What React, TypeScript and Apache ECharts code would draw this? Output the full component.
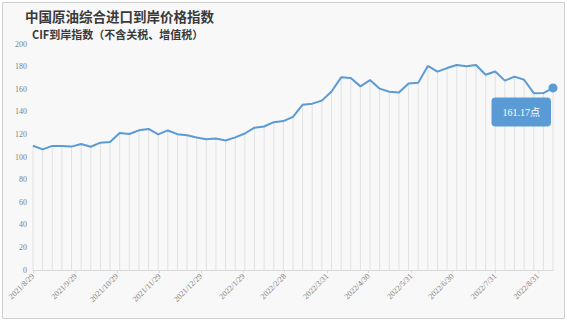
import React, { useEffect, useRef } from "react";
import * as echarts from "echarts";

const titleText = "中国原油综合进口到岸价格指数";
const subtitleText = "CIF到岸指数（不含关税、增值税）";
const startDate = "2021/8/29";
const indexValues = [
  110, 106.7, 109.8, 109.7, 109.2, 111.5, 109.1, 112.7, 113.2, 121.2,
  120.4, 123.6, 124.8, 120, 123.5, 120.2, 119.3, 117.2, 115.7, 116.3,
  114.6, 117.4, 120.8, 125.9, 127, 130.8, 131.8, 135.5, 146.3, 147.2,
  149.9, 158, 170.5, 169.9, 162.5, 168.1, 160.5, 157.8, 157.1, 165,
  165.6, 180.6, 175.5, 178.7, 181.4, 180.3, 181.4, 172.8, 175.6, 167.6,
  171.1, 168.4, 156.5, 156.6, 161.17,
];
const tickLabels = [
  "2021/8/29", "2021/9/29", "2021/10/29", "2021/11/29", "2021/12/29",
  "2022/1/29", "2022/2/28", "2022/3/31", "2022/4/30", "2022/5/31",
  "2022/6/30", "2022/7/31", "2022/8/31",
];
const lastLabelSuffix = "点";

function parseDate(s: string): number {
  const [y, m, d] = s.split("/").map(Number);
  return new Date(y, m - 1, d).getTime();
}
function fmt(t: number): string {
  const d = new Date(t);
  return `${d.getFullYear()}/${d.getMonth() + 1}/${d.getDate()}`;
}

export default function App() {
  const ref = useRef<HTMLDivElement>(null);
  useEffect(() => {
    if (!ref.current) return;
    const chart = echarts.init(ref.current, undefined, { renderer: "svg" });
    const start = parseDate(startDate);
    const dates = indexValues.map((_, i) => {
      const d = new Date(start);
      d.setDate(d.getDate() + 7 * i);
      return d.getTime();
    });
    const pts = indexValues.map((v, i) => [dates[i], v]);
    const tickVals = tickLabels.map(parseDate);
    const lastIdx = indexValues.length - 1;
    const lineData: any[] = pts.map((p, i) =>
      i === lastIdx
        ? {
            value: p,
            symbol: "circle",
            symbolSize: 9,
            label: {
              show: true,
              formatter: `${indexValues[lastIdx]}${lastLabelSuffix}`,
              position: [-57, 14],
              align: "left",
              verticalAlign: "top",
              color: "#ffffff",
              fontSize: 10,
              fontFamily: "Liberation Serif, Noto Sans CJK SC",
              backgroundColor: "#5b9bd5",
              borderRadius: 4,
              padding: [10, 11, 9, 11],
            },
          }
        : { value: p, symbol: "none" }
    );
    chart.setOption({
      animation: false,
      backgroundColor: "#ffffff",
      title: [
        {
          text: titleText,
          left: 25,
          top: 8.5,
          padding: 0,
          textStyle: {
            fontSize: 13.5,
            lineHeight: 15,
            fontWeight: "bold",
            color: "#3a3a3a",
            fontFamily: "Noto Sans CJK SC",
          },
        },
        {
          text: subtitleText,
          left: 32,
          top: 28,
          padding: 0,
          textStyle: {
            fontSize: 11,
            lineHeight: 11,
            fontWeight: "bold",
            color: "#3a3a3a",
            fontFamily: "Noto Sans CJK SC",
          },
        },
      ],
      graphic: [
        {
          type: "rect",
          z: -10,
          shape: { x: 2.5, y: 2.5, width: 562, height: 316 },
          style: { fill: "#f8f8f8", stroke: "#d0d0d0", lineWidth: 1 },
        },
      ],
      grid: { left: 33, right: 14, top: 44, bottom: 52 },
      xAxis: {
        type: "value",
        min: dates[0],
        max: dates[lastIdx],
        axisLine: { show: true, onZero: false, lineStyle: { color: "#d9d9d9", width: 1 } },
        axisTick: {
          show: true,
          customValues: tickVals,
          length: 3,
          lineStyle: { color: "#d9d9d9" },
        },
        axisLabel: {
          customValues: tickVals,
          formatter: (v: number) => fmt(v),
          rotate: 45,
          fontSize: 8,
          color: "#7f7f7f",
          margin: 5,
          fontFamily: "Liberation Serif",
        },
        splitLine: { show: false },
      },
      yAxis: {
        type: "value",
        min: 0,
        max: 200,
        interval: 20,
        axisLine: { show: false },
        axisTick: { show: false },
        splitLine: { show: false },
        axisLabel: {
          fontSize: 8,
          color: "#7f7f7f",
          margin: 6,
          fontFamily: "Liberation Serif",
        },
      },
      series: [
        {
          type: "bar",
          data: pts,
          barWidth: 1,
          itemStyle: { color: "#e2e2e2" },
          z: 1,
          silent: true,
        },
        {
          type: "line",
          data: lineData,
          lineStyle: { color: "#5b9bd5", width: 2 },
          itemStyle: { color: "#5b9bd5" },
          z: 3,
        },
      ],
    });
    return () => chart.dispose();
  }, []);
  return (
    <div
      ref={ref}
      style={{ position: "absolute", left: 0, top: 0, width: 567, height: 322 }}
    />
  );
}
